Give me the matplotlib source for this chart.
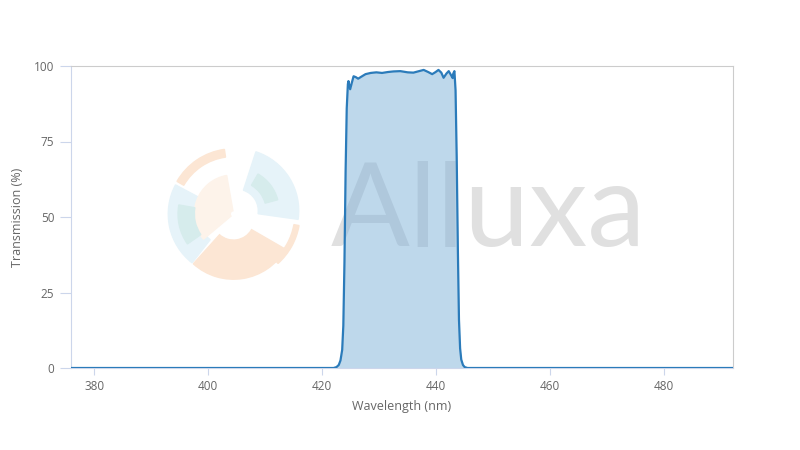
import numpy as np
import matplotlib.pyplot as plt
from matplotlib.patches import Wedge

# Spectrum (wavelength in nm, transmission in %)
wavelength = [376.0, 422.0, 422.5, 422.9, 423.2, 423.5, 423.7, 423.9, 424.1, 424.3,
              424.5, 424.6, 424.9, 425.2, 425.5, 425.9, 426.3, 426.9, 427.6, 428.5,
              429.5, 430.5, 431.5, 432.5, 433.7, 435.0, 436.0, 437.0, 437.8, 438.6,
              439.3, 439.9, 440.4, 440.9, 441.3, 441.8, 442.2, 442.6, 442.9, 443.0,
              443.2, 443.4, 443.6, 443.8, 444.0, 444.2, 444.4, 444.7, 445.0, 445.5,
              492.0]
transmission = [0.0, 0.0, 0.3, 1.0, 2.5, 6.0, 14.0, 35.0, 65.0, 86.0,
                94.0, 95.0, 92.3, 94.5, 96.6, 96.3, 95.8, 96.5, 97.3, 97.7,
                97.9, 97.7, 98.0, 98.2, 98.3, 97.9, 97.8, 98.3, 98.7, 98.0,
                97.3, 98.0, 98.7, 97.8, 96.1, 97.5, 98.3, 97.0, 96.0, 97.5,
                98.3, 92.0, 70.0, 40.0, 16.0, 6.5, 2.8, 1.0, 0.3, 0.0,
                0.0]

x_ticks = [380, 400, 420, 440, 460, 480]
y_ticks = [0, 25, 50, 75, 100]
x_limits = (375.9, 492.1)

line_color = '#2b7bba'
fill_color = '#7fb2d9'
text_color = '#666666'
axis_color = '#ccd6eb'

plt.rcParams['font.family'] = ['Open Sans', 'DejaVu Sans']

fig = plt.figure(figsize=(8, 4.5), dpi=100)
ax = fig.add_axes([71 / 800, 1 - 368 / 450, 662 / 800, 302 / 450])

# watermark text behind the data
ax.text(0.392, 0.405, 'Alluxa', transform=ax.transAxes, fontsize=84,
        family=['Lato', 'DejaVu Sans'], fontweight='normal', color='#e0e0e0',
        ha='left', va='baseline', zorder=0)

# watermark logo (rough shapes) in its own axes
logo = fig.add_axes([165 / 800, 1 - 283 / 450, 137 / 800, 138 / 450])
logo.set_xlim(-1.05, 1.05)
logo.set_ylim(-1.05, 1.05)
logo.set_aspect('equal')
logo.axis('off')
logo.set_zorder(0)
orange = '#fce6d4'
blue = '#e6f3f9'
teal = '#d6ecec'
logo.add_patch(Wedge((0, 0), 1.0, 98, 150, width=0.12, color=orange))
logo.add_patch(Wedge((0.05, 0.05), 0.95, -8, 72, width=0.62, color=blue))
logo.add_patch(Wedge((-0.05, 0.0), 0.95, 152, 232, width=0.45, color=blue))
logo.add_patch(Wedge((0.0, -0.08), 0.92, 228, 330, width=0.6, color=orange))
logo.add_patch(Wedge((0, 0), 1.02, -48, -10, width=0.08, color=orange))
logo.add_patch(Wedge((0, 0), 0.6, 100, 220, width=0.55, color='#fdf3ea'))
logo.add_patch(Wedge((0.05, 0.05), 0.65, 15, 60, width=0.2, color=teal))
logo.add_patch(Wedge((-0.05, 0.0), 0.8, 170, 215, width=0.25, color=teal))

ax.set_zorder(1)
ax.patch.set_alpha(0)

ax.fill_between(wavelength, transmission, 0, color=fill_color, alpha=0.5,
                linewidth=0, zorder=2)
ax.plot(wavelength, transmission, color=line_color, linewidth=1.6, zorder=3,
        solid_joinstyle='round')

ax.set_xlim(*x_limits)
ax.set_ylim(0, 100)
ax.set_xticks(x_ticks)
ax.set_yticks(y_ticks)

for side in ['top', 'right']:
    ax.spines[side].set_color('#cccccc')
    ax.spines[side].set_linewidth(0.8)
ax.spines['left'].set_color(axis_color)
ax.spines['bottom'].set_color(axis_color)

ax.tick_params(axis='x', colors=axis_color, labelcolor=text_color,
               labelsize=8.5, length=5, width=0.8, pad=4)
ax.tick_params(axis='y', colors=axis_color, labelcolor=text_color,
               labelsize=8.5, length=8, width=0.8, pad=4)

ax.set_xlabel('Wavelength (nm)', color=text_color, fontsize=9, labelpad=5)
ax.set_ylabel('Transmission (%)', color=text_color, fontsize=9, labelpad=7)

fig.savefig('out.png', dpi=100)
